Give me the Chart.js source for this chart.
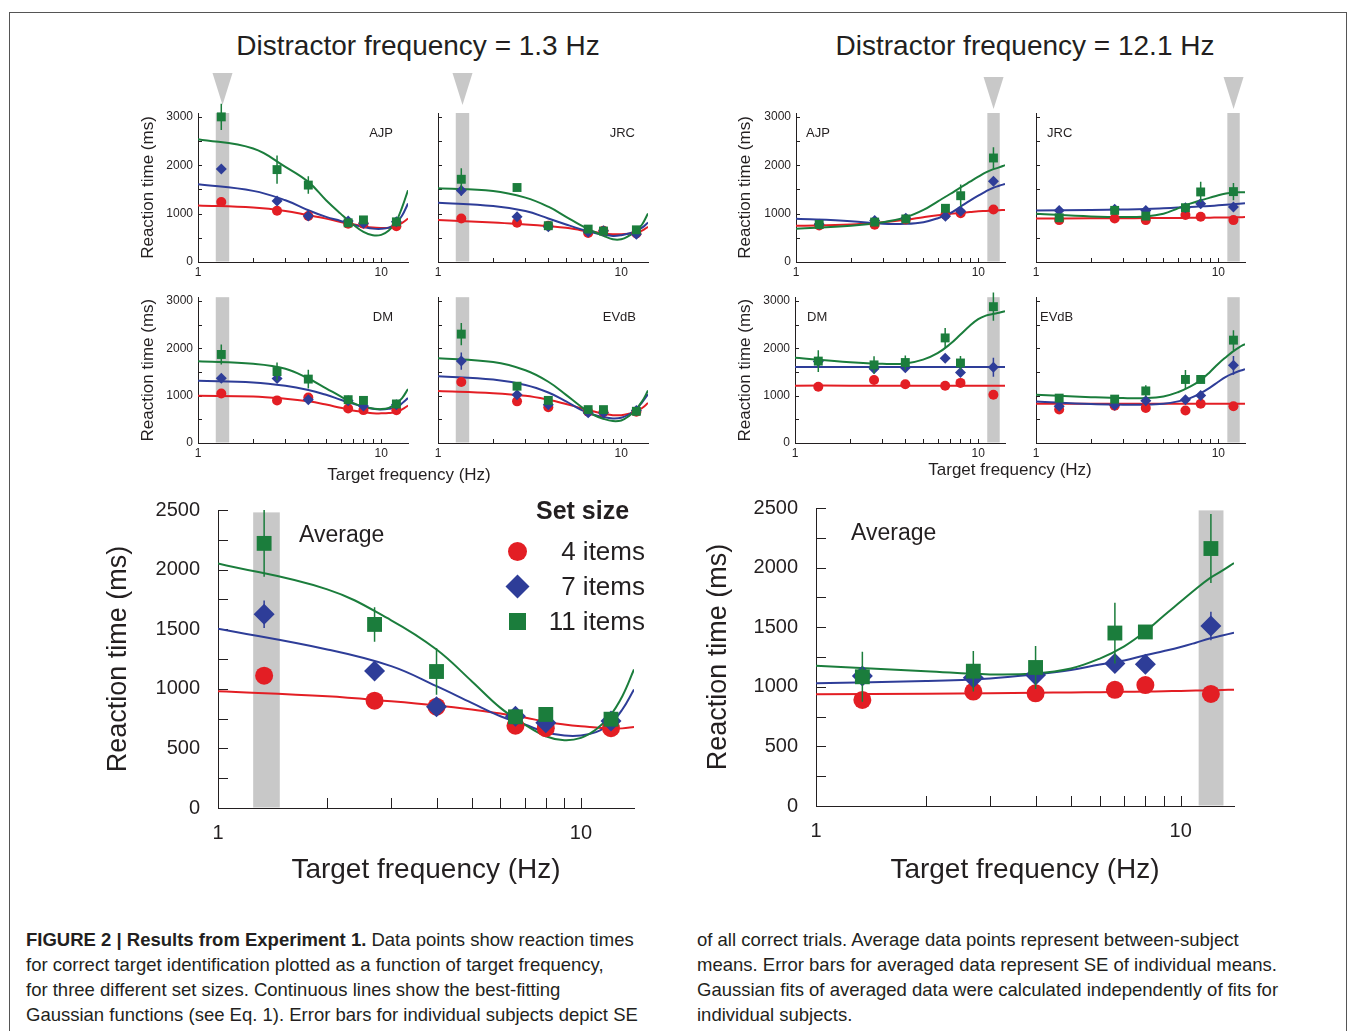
<!DOCTYPE html>
<html>
<head>
<meta charset="utf-8">
<title>Figure 2 - Results from Experiment 1</title>
<script src="https://cdn.jsdelivr.net/npm/chart.js@4.4.1/dist/chart.umd.min.js"></script>
<style>
  body { margin: 0; width: 1356px; height: 1031px; overflow: hidden; position: relative; background: #fff;
         font-family: "Liberation Sans", Arial, sans-serif; color: #231f20; }
  .frame { position: absolute; left: 9px; top: 12px; width: 1336px; height: 1040px; border: 1px solid #555; }
  canvas { position: absolute; }
  .t { position: absolute; white-space: nowrap; }
  .title { font-size: 28px; top: 30px; transform: translateX(-50%); }
  .xt { font-size: 17px; transform: translateX(-50%); }
  .cap { font-size: 18.5px; line-height: 25px; }
  .leg { font-size: 26px; text-align: right; width: 120px; left: 525px; }
  .mk { position: absolute; }
</style>
</head>
<body>
<div class="frame"></div>

<div class="t title" style="left:418px">Distractor frequency = 1.3 Hz</div>
<div class="t title" style="left:1025px">Distractor frequency = 12.1 Hz</div>

<canvas id="c13ajp"  width="300" height="225" style="left:120px;top:60px"></canvas>
<canvas id="c13jrc"  width="240" height="225" style="left:420px;top:60px"></canvas>
<canvas id="c13dm"   width="300" height="180" style="left:120px;top:285px"></canvas>
<canvas id="c13evdb" width="240" height="180" style="left:420px;top:285px"></canvas>
<canvas id="c121ajp"  width="300" height="225" style="left:720px;top:60px"></canvas>
<canvas id="c121jrc"  width="240" height="225" style="left:1020px;top:60px"></canvas>
<canvas id="c121dm"   width="300" height="180" style="left:720px;top:285px"></canvas>
<canvas id="c121evdb" width="240" height="180" style="left:1020px;top:285px"></canvas>
<canvas id="cavg13"  width="560" height="420" style="left:90px;top:480px"></canvas>
<canvas id="cavg121" width="560" height="420" style="left:690px;top:478px"></canvas>

<div class="t xt" style="left:409px;top:465px">Target frequency (Hz)</div>
<div class="t xt" style="left:1010px;top:460px">Target frequency (Hz)</div>

<div class="t" style="left:536px;top:496px;font-size:25px;font-weight:bold">Set size</div>
<div class="mk" style="left:508px;top:542px;width:19px;height:19px;border-radius:50%;background:#e31e24"></div>
<div class="mk" style="left:509px;top:578px;width:17px;height:17px;transform:rotate(45deg);background:#2e3d98"></div>
<div class="mk" style="left:509px;top:613px;width:17px;height:17px;background:#1b7d3c"></div>
<div class="t leg" style="top:536px">4 items</div>
<div class="t leg" style="top:571px">7 items</div>
<div class="t leg" style="top:606px">11 items</div>

<div class="t cap" style="left:26px;top:927px">
  <b>FIGURE 2 | Results from Experiment 1.</b> Data points show reaction times<br>
  for correct target identification plotted as a function of target frequency,<br>
  for three different set sizes. Continuous lines show the best-fitting<br>
  Gaussian functions (see Eq. 1). Error bars for individual subjects depict SE
</div>
<div class="t cap" style="left:697px;top:927px">
  of all correct trials. Average data points represent between-subject<br>
  means. Error bars for averaged data represent SE of individual means.<br>
  Gaussian fits of averaged data were calculated independently of fits for<br>
  individual subjects.
</div>

<script>
// target frequencies (Hz) of the data points, and where the fitted curves were read
const freqs = [1.34, 2.7, 4.0, 6.6, 8.0, 12.1];
const fitFreqs = [1, 2, 3, 4, 5, 6, 7, 8, 9, 10, 11, 12, 13, 14];
const xTicks = [1, 2, 3, 4, 5, 6, 7, 8, 9, 10];
const xTickLabels = [1, 10];
const smallYTicks = [0, 500, 1000, 1500, 2000, 2500, 3000];
const smallYLabels = [0, 1000, 2000, 3000];
const bigYTicks = [0, 250, 500, 750, 1000, 1250, 1500, 1750, 2000, 2250, 2500];
const bigYLabels = [0, 500, 1000, 1500, 2000, 2500];
const setSizes = ['4 items', '7 items', '11 items'];
const band13 = [1.25, 1.48];
const band121 = [11.2, 13.1];

// ---- distractor 1.3 Hz, individual subjects (ms) ----
const d13_AJP_4  = [1240, 1060, 950, 790, 790, 740];
const d13_AJP_7  = [1920, 1260, 950, 850, 800, 830];
const d13_AJP_11 = [3000, 1910, 1590, 810, 870, 830];
const d13_AJP_e4  = [40, 40, 30, 30, 30, 30];
const d13_AJP_e7  = [40, 40, 40, 30, 30, 30];
const d13_AJP_e11 = [270, 290, 180, 60, 40, 40];
const d13_AJP_f4  = [1170, 1125, 1056, 966, 897, 828, 780, 738, 711, 705, 710, 740, 810, 897];
const d13_AJP_f7  = [1608, 1470, 1277, 1070, 932, 849, 773, 725, 690, 685, 710, 790, 960, 1208];
const d13_AJP_f11 = [2540, 2346, 1966, 1656, 1277, 1000, 780, 621, 552, 560, 650, 820, 1130, 1484];

const d13_JRC_4  = [900, 810, 750, 600, 645, 590];
const d13_JRC_7  = [1480, 935, 730, 620, 645, 575];
const d13_JRC_11 = [1710, 1540, 750, 680, 640, 665];
const d13_JRC_e4  = [40, 30, 30, 30, 30, 30];
const d13_JRC_e7  = [110, 70, 40, 30, 40, 40];
const d13_JRC_e11 = [230, 60, 40, 40, 40, 40];
const d13_JRC_f4  = [866, 818, 776, 741, 707, 658, 624, 589, 575, 575, 585, 603, 650, 728];
const d13_JRC_f7  = [1227, 1157, 1053, 900, 776, 679, 610, 568, 540, 554, 589, 638, 710, 818];
const d13_JRC_f11 = [1525, 1469, 1330, 1143, 935, 762, 638, 540, 471, 471, 540, 638, 776, 1005];

const d13_DM_4  = [1046, 900, 963, 730, 695, 690];
const d13_DM_7  = [1370, 1360, 915, 895, 780, 810];
const d13_DM_11 = [1870, 1510, 1350, 915, 900, 825];
const d13_DM_e4  = [40, 40, 40, 30, 30, 30];
const d13_DM_e7  = [60, 60, 70, 40, 40, 40];
const d13_DM_e11 = [210, 190, 200, 60, 40, 40];
const d13_DM_f4  = [998, 984, 936, 881, 812, 743, 688, 654, 626, 626, 633, 654, 710, 791];
const d13_DM_f7  = [1314, 1280, 1211, 1121, 1018, 915, 832, 764, 722, 709, 722, 757, 840, 949];
const d13_DM_f11 = [1727, 1672, 1569, 1362, 1156, 984, 846, 764, 729, 716, 743, 826, 949, 1142];

const d13_EVdB_4  = [1290, 880, 755, 660, 650, 660];
const d13_EVdB_7  = [1730, 1020, 810, 640, 640, 685];
const d13_EVdB_11 = [2300, 1200, 900, 705, 705, 670];
const d13_EVdB_e4  = [40, 40, 40, 30, 30, 30];
const d13_EVdB_e7  = [180, 60, 50, 30, 30, 30];
const d13_EVdB_e11 = [235, 50, 50, 40, 40, 40];
const d13_EVdB_f4  = [1100, 1052, 996, 913, 823, 740, 671, 616, 588, 588, 616, 657, 740, 844];
const d13_EVdB_f7  = [1412, 1342, 1225, 1066, 879, 706, 602, 547, 519, 533, 602, 706, 860, 1031];
const d13_EVdB_f11 = [1792, 1709, 1536, 1294, 1017, 775, 602, 512, 464, 477, 567, 706, 879, 1107];

// ---- distractor 12.1 Hz, individual subjects (ms) ----
const d121_AJP_4  = [755, 770, 880, 980, 1010, 1085];
const d121_AJP_7  = [780, 860, 905, 945, 1050, 1670];
const d121_AJP_11 = [775, 825, 890, 1110, 1370, 2150];
const d121_AJP_e4  = [30, 30, 30, 30, 40, 40];
const d121_AJP_e7  = [40, 40, 40, 50, 60, 80];
const d121_AJP_e11 = [40, 60, 50, 80, 230, 220];
const d121_AJP_f4  = [748, 775, 823, 871, 926, 967, 995, 1015, 1032, 1049, 1056, 1063, 1070, 1077];
const d121_AJP_f7  = [892, 844, 789, 789, 823, 905, 1008, 1146, 1269, 1372, 1461, 1530, 1575, 1612];
const d121_AJP_f11 = [686, 748, 823, 926, 1077, 1255, 1406, 1544, 1660, 1763, 1852, 1914, 1955, 2003];

const d121_JRC_4  = [866, 900, 866, 970, 935, 866];
const d121_JRC_7  = [1067, 1088, 1067, 1122, 1206, 1136];
const d121_JRC_11 = [914, 1067, 949, 1122, 1448, 1455];
const d121_JRC_e4  = [30, 30, 30, 30, 30, 30];
const d121_JRC_e7  = [40, 40, 40, 50, 70, 70];
const d121_JRC_e11 = [40, 40, 50, 60, 210, 180];
const d121_JRC_f4  = [900, 903, 905, 907, 909, 911, 913, 915, 917, 919, 921, 923, 925, 928];
const d121_JRC_f7  = [1067, 1075, 1085, 1095, 1110, 1125, 1138, 1150, 1160, 1171, 1182, 1192, 1202, 1213];
const d121_JRC_f11 = [998, 942, 928, 942, 998, 1109, 1206, 1275, 1330, 1379, 1414, 1435, 1440, 1441];

const d121_DM_4  = [1190, 1330, 1240, 1210, 1270, 1020];
const d121_DM_7  = [1720, 1570, 1590, 1790, 1490, 1600];
const d121_DM_11 = [1730, 1650, 1700, 2220, 1690, 2880];
const d121_DM_e4  = [30, 30, 30, 30, 30, 30];
const d121_DM_e7  = [50, 60, 50, 50, 60, 200];
const d121_DM_e11 = [230, 180, 150, 210, 150, 300];
const d121_DM_f4  = [1212, 1212, 1211, 1211, 1211, 1211, 1211, 1211, 1211, 1211, 1211, 1211, 1211, 1211];
const d121_DM_f7  = [1603, 1603, 1603, 1603, 1603, 1603, 1603, 1603, 1603, 1603, 1603, 1603, 1603, 1603];
const d121_DM_f11 = [1803, 1706, 1672, 1679, 1761, 1899, 2085, 2291, 2477, 2615, 2690, 2725, 2752, 2786];

const d121_EVdB_4  = [706, 789, 740, 685, 830, 775];
const d121_EVdB_7  = [775, 796, 893, 913, 1003, 1640];
const d121_EVdB_11 = [948, 927, 1100, 1342, 1342, 2173];
const d121_EVdB_e4  = [30, 30, 30, 30, 30, 30];
const d121_EVdB_e7  = [40, 40, 40, 50, 50, 200];
const d121_EVdB_e11 = [40, 40, 120, 200, 80, 210];
const d121_EVdB_f4  = [830, 830, 830, 830, 830, 830, 830, 830, 830, 830, 830, 830, 830, 830];
const d121_EVdB_f7  = [879, 823, 810, 810, 830, 879, 948, 1052, 1169, 1294, 1398, 1467, 1520, 1557];
const d121_EVdB_f11 = [1017, 969, 948, 948, 983, 1073, 1190, 1329, 1502, 1675, 1813, 1931, 2021, 2090];

// ---- averages ----
const avg13_4  = [1110, 900, 850, 690, 670, 670];
const avg13_7  = [1625, 1150, 850, 770, 715, 730];
const avg13_11 = [2220, 1540, 1145, 765, 785, 745];
const avg13_e4  = [50, 30, 30, 30, 30, 20];
const avg13_e7  = [115, 70, 40, 30, 30, 30];
const avg13_e11 = [280, 145, 195, 40, 40, 30];
const avg13_f4  = [980, 938, 895, 860, 826, 792, 760, 722, 700, 685, 675, 665, 668, 680];
const avg13_f7  = [1504, 1330, 1190, 1022, 882, 770, 700, 636, 608, 608, 636, 700, 826, 994];
const avg13_f11 = [2052, 1834, 1575, 1330, 1064, 840, 700, 602, 568, 588, 658, 770, 938, 1162];

const avg121_4  = [890, 960, 945, 975, 1015, 940];
const avg121_7  = [1090, 1076, 1098, 1195, 1190, 1510];
const avg121_11 = [1084, 1131, 1162, 1451, 1460, 2160];
const avg121_e4  = [60, 60, 60, 60, 50, 30];
const avg121_e7  = [40, 60, 50, 60, 60, 120];
const avg121_e11 = [210, 170, 180, 255, 50, 290];
const avg121_f4  = [937, 942, 946, 950, 953, 955, 958, 960, 963, 965, 968, 970, 973, 976];
const avg121_f7  = [1029, 1048, 1070, 1104, 1140, 1187, 1220, 1265, 1300, 1334, 1370, 1405, 1430, 1454];
const avg121_f11 = [1176, 1131, 1104, 1112, 1154, 1237, 1340, 1465, 1599, 1715, 1821, 1910, 1974, 2038];

// ---- styling ----
const colors = ['#e31e24', '#2e3d98', '#1b7d3c'];
const markers = ['circle', 'rectRot', 'rect'];
const bandColor = '#c8c8c8';
const ink = '#231f20';
const fontFamily = '"Liberation Sans", Arial, sans-serif';

Chart.defaults.font.family = fontFamily;
Chart.defaults.color = ink;

function extrasPlugin(cfg) {
  return {
    id: 'extras',
    beforeDatasetsDraw(chart) {
      const {ctx, chartArea: a, scales: {x, y}} = chart;
      ctx.save();
      const x0 = x.getPixelForValue(cfg.band[0]);
      const x1 = x.getPixelForValue(cfg.band[1]);
      const yt = y.getPixelForValue(cfg.bandTop);
      const yb = y.getPixelForValue(0);
      ctx.fillStyle = bandColor;
      ctx.fillRect(x0, yt, x1 - x0, yb - yt - 0.5);
      if (cfg.tri) {
        const cx = (x0 + x1) / 2;
        ctx.beginPath();
        ctx.moveTo(cx - 10, a.top - cfg.tri[0]);
        ctx.lineTo(cx + 10, a.top - cfg.tri[0]);
        ctx.lineTo(cx, a.top - cfg.tri[1]);
        ctx.closePath();
        ctx.fill();
      }
      // inward tick marks
      ctx.strokeStyle = ink;
      ctx.lineWidth = 1;
      ctx.beginPath();
      y.ticks.forEach(t => {
        const py = Math.round(y.getPixelForValue(t.value)) + 0.5;
        ctx.moveTo(a.left, py);
        ctx.lineTo(a.left + cfg.tickLen, py);
      });
      x.ticks.forEach(t => {
        const px = Math.round(x.getPixelForValue(t.value)) + 0.5;
        ctx.moveTo(px, a.bottom);
        ctx.lineTo(px, a.bottom - cfg.tickLen);
      });
      ctx.stroke();
      // panel label
      ctx.fillStyle = ink;
      ctx.font = cfg.labelFont;
      ctx.textBaseline = 'middle';
      ctx.textAlign = cfg.labelAlign;
      const lx = cfg.labelAlign === 'right' ? a.right - cfg.labelDx : a.left + cfg.labelDx;
      ctx.fillText(cfg.label, lx, a.top + cfg.labelDy);
      ctx.restore();
    },
    beforeDatasetDraw(chart, args) {
      const ds = chart.data.datasets[args.index];
      if (!ds.err) return;
      const {ctx, scales: {x, y}} = chart;
      ctx.save();
      ctx.strokeStyle = ds.pointBackgroundColor;
      ctx.lineWidth = cfg.errWidth;
      ctx.beginPath();
      ds.data.forEach((p, i) => {
        const px = x.getPixelForValue(p.x);
        ctx.moveTo(px, y.getPixelForValue(p.y + ds.err[i]));
        ctx.lineTo(px, y.getPixelForValue(p.y - ds.err[i]));
      });
      ctx.stroke();
      ctx.restore();
    }
  };
}

function plot(id, vals, errs, fits, cfg) {
  const datasets = [];
  fits.forEach((f, k) => {
    datasets.push({
      label: setSizes[k] + ' fit',
      data: fitFreqs.map((fx, i) => ({x: fx, y: f[i]})),
      borderColor: colors[k],
      borderWidth: cfg.lineWidth,
      pointRadius: 0,
      tension: 0.4,
      fill: false,
      order: 10 - k
    });
  });
  vals.forEach((v, k) => {
    datasets.push({
      label: setSizes[k],
      data: freqs.map((fx, i) => ({x: fx, y: v[i]})),
      err: errs[k],
      showLine: false,
      pointStyle: markers[k],
      pointRadius: cfg.radius[k],
      pointBackgroundColor: colors[k],
      pointBorderWidth: 0,
      borderColor: colors[k],
      clip: false,
      order: 3 - k
    });
  });

  new Chart(document.getElementById(id), {
    type: 'line',
    data: {datasets},
    options: {
      responsive: false,
      animation: false,
      devicePixelRatio: 1,
      layout: {padding: {top: cfg.padTop, right: cfg.padRight, left: 0, bottom: 0}},
      plugins: {legend: {display: false}, tooltip: {enabled: false}},
      scales: {
        x: {
          type: 'logarithmic', min: 1, max: 14,
          afterBuildTicks: s => { s.ticks = xTicks.map(v => ({value: v})); },
          afterFit: s => { s.height = cfg.xh; },
          grid: {display: false, drawTicks: false},
          border: {color: ink, width: 1},
          ticks: {
            autoSkip: false, maxRotation: 0, padding: cfg.xPad,
            font: {size: cfg.tickSize},
            callback: v => xTickLabels.includes(v) ? String(v) : ''
          },
          title: cfg.xTitle ? {
            display: true, text: 'Target frequency (Hz)',
            font: {size: cfg.xTitleSize}, padding: {top: 0, bottom: cfg.xTitlePad}
          } : {display: false}
        },
        y: {
          type: 'linear', min: 0, max: cfg.ymax,
          afterBuildTicks: s => { s.ticks = cfg.yTicks.map(v => ({value: v})); },
          afterFit: s => { s.width = cfg.yw; },
          grid: {display: false, drawTicks: false},
          border: {color: ink, width: 1},
          ticks: {
            padding: cfg.yPad,
            font: {size: cfg.tickSize},
            callback: v => (cfg.yLabels && cfg.yLabels.includes(v)) ? String(v) : ''
          },
          title: cfg.yTitle ? {
            display: true, text: 'Reaction time (ms)',
            font: {size: cfg.yTitleSize}, padding: {top: cfg.yTitlePad, bottom: 0}
          } : {display: false}
        }
      }
    },
    plugins: [extrasPlugin(cfg)]
  });
}

function small(id, label, vals, errs, fits, box) {
  const leftCol = box.yLabels;
  plot(id, vals, errs, fits, Object.assign({
    ymax: 3080, yTicks: smallYTicks, tickSize: 12, xPad: 3, yPad: 5,
    lineWidth: 2, radius: [5, 5.5, 6.3], errWidth: 1.5, tickLen: 4,
    bandTop: 3080, yTitleSize: 17, xTitle: false,
    yTitle: !!leftCol, label: label, labelFont: '13px ' + fontFamily, labelDy: 20
  }, box));
}

// distractor 1.3 Hz subjects
small('c13ajp', 'AJP', [d13_AJP_4, d13_AJP_7, d13_AJP_11], [d13_AJP_e4, d13_AJP_e7, d13_AJP_e11],
      [d13_AJP_f4, d13_AJP_f7, d13_AJP_f11],
      {padTop: 53, padRight: 12, yw: 78, xh: 23, yLabels: smallYLabels, yTitlePad: 18,
       band: band13, tri: [40, 8], labelAlign: 'right', labelDx: 15});
small('c13jrc', 'JRC', [d13_JRC_4, d13_JRC_7, d13_JRC_11], [d13_JRC_e4, d13_JRC_e7, d13_JRC_e11],
      [d13_JRC_f4, d13_JRC_f7, d13_JRC_f11],
      {padTop: 53, padRight: 12, yw: 18, xh: 23, yLabels: null,
       band: band13, tri: [40, 8], labelAlign: 'right', labelDx: 13});
small('c13dm', 'DM', [d13_DM_4, d13_DM_7, d13_DM_11], [d13_DM_e4, d13_DM_e7, d13_DM_e11],
      [d13_DM_f4, d13_DM_f7, d13_DM_f11],
      {padTop: 8, padRight: 12, yw: 78, xh: 22, yLabels: smallYLabels, yTitlePad: 18,
       band: band13, tri: null, labelAlign: 'right', labelDx: 15});
small('c13evdb', 'EVdB', [d13_EVdB_4, d13_EVdB_7, d13_EVdB_11], [d13_EVdB_e4, d13_EVdB_e7, d13_EVdB_e11],
      [d13_EVdB_f4, d13_EVdB_f7, d13_EVdB_f11],
      {padTop: 8, padRight: 12, yw: 18, xh: 22, yLabels: null,
       band: band13, tri: null, labelAlign: 'right', labelDx: 12});

// distractor 12.1 Hz subjects
small('c121ajp', 'AJP', [d121_AJP_4, d121_AJP_7, d121_AJP_11], [d121_AJP_e4, d121_AJP_e7, d121_AJP_e11],
      [d121_AJP_f4, d121_AJP_f7, d121_AJP_f11],
      {padTop: 53, padRight: 15, yw: 76, xh: 23, yLabels: smallYLabels, yTitlePad: 15,
       band: band121, tri: [36, 4], labelAlign: 'left', labelDx: 10});
small('c121jrc', 'JRC', [d121_JRC_4, d121_JRC_7, d121_JRC_11], [d121_JRC_e4, d121_JRC_e7, d121_JRC_e11],
      [d121_JRC_f4, d121_JRC_f7, d121_JRC_f11],
      {padTop: 53, padRight: 15, yw: 16, xh: 23, yLabels: null,
       band: band121, tri: [36, 4], labelAlign: 'left', labelDx: 11});
small('c121dm', 'DM', [d121_DM_4, d121_DM_7, d121_DM_11], [d121_DM_e4, d121_DM_e7, d121_DM_e11],
      [d121_DM_f4, d121_DM_f7, d121_DM_f11],
      {padTop: 8, padRight: 15, yw: 75, xh: 22, yLabels: smallYLabels, yTitlePad: 15,
       band: band121, tri: null, labelAlign: 'left', labelDx: 12});
small('c121evdb', 'EVdB', [d121_EVdB_4, d121_EVdB_7, d121_EVdB_11], [d121_EVdB_e4, d121_EVdB_e7, d121_EVdB_e11],
      [d121_EVdB_f4, d121_EVdB_f7, d121_EVdB_f11],
      {padTop: 8, padRight: 15, yw: 16, xh: 22, yLabels: null,
       band: band121, tri: null, labelAlign: 'left', labelDx: 4});

// averages
const bigCfg = {
  ymax: 2500, yTicks: bigYTicks, yLabels: bigYLabels, tickSize: 20, xPad: 13, yPad: 18,
  lineWidth: 2, radius: [9, 10.5, 10.5], errWidth: 1.5, tickLen: 10, bandTop: 2480,
  xTitle: true, xTitleSize: 28, yTitle: true, yTitleSize: 27, yTitlePad: 12,
  label: 'Average', labelFont: '23px ' + fontFamily, labelAlign: 'left', labelDy: 26,
  padRight: 16, padTop: 30, xh: 92, tri: null
};
plot('cavg13', [avg13_4, avg13_7, avg13_11], [avg13_e4, avg13_e7, avg13_e11],
     [avg13_f4, avg13_f7, avg13_f11],
     Object.assign({}, bigCfg, {yw: 128, xTitlePad: 13, band: band13, labelDx: 81}));
plot('cavg121', [avg121_4, avg121_7, avg121_11], [avg121_e4, avg121_e7, avg121_e11],
     [avg121_f4, avg121_f7, avg121_f11],
     Object.assign({}, bigCfg, {yw: 126, xTitlePad: 11, band: band121, labelDx: 35}));
</script>
</body>
</html>
